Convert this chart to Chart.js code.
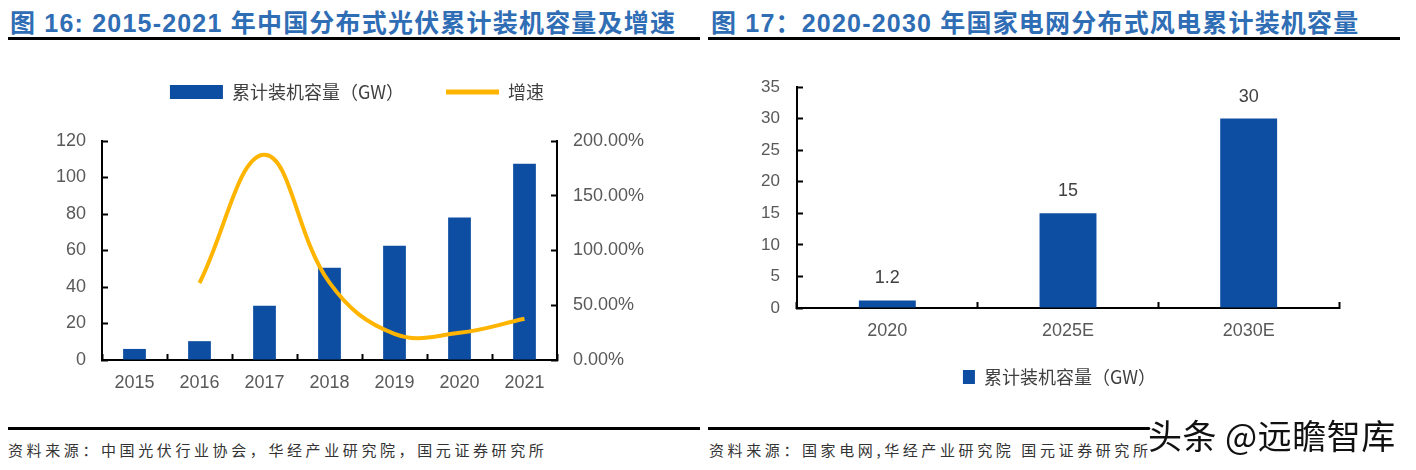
<!DOCTYPE html>
<html>
<head>
<meta charset="utf-8">
<script src="https://cdn.jsdelivr.net/npm/chart.js@4.4.0/dist/chart.umd.min.js"></script>
<style>
  body { margin: 0; width: 1416px; height: 470px; background: #fff; position: relative; overflow: hidden; }
  .title { position: absolute; top: 3px; font-family: "Liberation Sans", "Noto Sans CJK SC", sans-serif; font-weight: bold; font-size: 25px; color: #2f6db5; white-space: nowrap; letter-spacing: 1.2px; }
  .rule { position: absolute; height: 3px; background: #000; }
  .src { position: absolute; top: 439px; font-family: "Noto Sans CJK SC", sans-serif; font-size: 15px; color: #333; letter-spacing: 3.6px; white-space: nowrap; }
  .mark { position: absolute; left: 1148px; top: 410px; font-family: "Noto Sans CJK SC", sans-serif; font-size: 34px; color: #111; white-space: nowrap; letter-spacing: 0.5px;
          text-shadow: -2px 0 #fff, 2px 0 #fff, 0 -2px #fff, 0 2px #fff, -2px -2px #fff, 2px 2px #fff, -2px 2px #fff, 2px -2px #fff; }
  canvas { position: absolute; }
</style>
</head>
<body>
<div class="title" style="left:10px">图 16: 2015-2021 年中国分布式光伏累计装机容量及增速</div>
<div class="title" style="left:711px">图 17：2020-2030 年国家电网分布式风电累计装机容量</div>
<div class="rule" style="left:8px;width:692px;top:37px"></div>
<div class="rule" style="left:708px;width:692px;top:37px"></div>

<canvas id="pvChart" width="708" height="380" style="left:0;top:40px"></canvas>
<canvas id="windChart" width="708" height="380" style="left:708px;top:40px"></canvas>

<div class="rule" style="left:8px;width:692px;top:427px"></div>
<div class="rule" style="left:708px;width:452px;top:427px"></div>
<div class="src" style="left:8px">资料来源：中国光伏行业协会，华经产业研究院，国元证券研究所</div>
<div class="src" style="left:709px">资料来源：国家电网,华经产业研究院 国元证券研究所</div>
<div class="mark">头条 @远瞻智库</div>

<script>
// data
const pvYears = ['2015', '2016', '2017', '2018', '2019', '2020', '2021'];
const pvCapacity = [6.06, 10.32, 29.66, 50.61, 62.63, 78.15, 107.5];
const pvGrowth = [null, 70.3, 187.4, 70.6, 23.8, 24.8, 37.6];

const windYears = ['2020', '2025E', '2030E'];
const windCapacity = [1.2, 15, 30];

const BLUE = '#0d4ea2';
const ORANGE = '#ffb400';
const tickFont = { family: 'Liberation Sans', size: 18 };
const tickColor = '#595959';

Chart.defaults.devicePixelRatio = 1;

// inward tick marks + black axis line
function axisGrid() {
  return { drawOnChartArea: false, drawTicks: true, tickLength: -6, tickWidth: 2, tickColor: '#000' };
}
const axisBorder = { display: true, color: '#000', width: 2 };

// force legend box height so the plot area sits where the reference has it
function legendHeight(h) {
  return {
    id: 'legendHeight',
    beforeInit(chart) {
      const fit = chart.legend.fit;
      chart.legend.fit = function () { fit.call(this); this.height = h; };
    }
  };
}

// nudge the legend sideways after layout
function legendShift(dx) {
  return {
    id: 'legendShift',
    afterLayout(chart) {
      chart.legend.left += dx;
      chart.legend.right += dx;
    }
  };
}

new Chart(document.getElementById('pvChart'), {
  data: {
    labels: pvYears,
    datasets: [
      {
        type: 'line',
        label: '增速',
        data: pvGrowth,
        yAxisID: 'y1',
        borderColor: ORANGE,
        backgroundColor: ORANGE,
        borderWidth: 4,
        pointRadius: 0,
        tension: 0.4,
        order: 0
      },
      {
        type: 'bar',
        label: '累计装机容量（GW）',
        data: pvCapacity,
        yAxisID: 'y',
        backgroundColor: BLUE,
        barPercentage: 0.35,
        categoryPercentage: 1,
        order: 1
      }
    ]
  },
  options: {
    responsive: false,
    animation: false,
    layout: { padding: { top: 1, left: 0, right: 0, bottom: 0 } },
    plugins: {
      tooltip: { enabled: false },
      legend: {
        position: 'top',
        labels: {
          usePointStyle: true,
          pointStyleWidth: 53,
          boxHeight: 14,
          padding: 42,
          color: '#404040',
          font: { family: 'Noto Sans CJK SC', size: 18 },
          generateLabels(chart) {
            // bar first, then line, like the reference
            return [1, 0].map(i => {
              const ds = chart.data.datasets[i];
              const isLine = ds.type === 'line';
              return {
                text: ds.label,
                datasetIndex: i,
                fillStyle: isLine ? ds.borderColor : ds.backgroundColor,
                strokeStyle: isLine ? ds.borderColor : ds.backgroundColor,
                lineWidth: isLine ? 5 : 0,
                pointStyle: isLine ? 'line' : 'rect',
                fontColor: '#404040'
              };
            });
          }
        }
      }
    },
    scales: {
      x: {
        offset: true,
        grid: Object.assign(axisGrid(), { offset: true }),
        border: axisBorder,
        ticks: { color: tickColor, font: tickFont, padding: 18, maxRotation: 0 },
        afterFit(s) { s.height = 60; }
      },
      y: {
        position: 'left',
        min: 0,
        max: 120,
        grid: axisGrid(),
        border: axisBorder,
        ticks: { stepSize: 20, color: tickColor, font: tickFont, padding: 22 },
        afterFit(s) { s.width = 102; }
      },
      y1: {
        position: 'right',
        min: 0,
        max: 200,
        grid: axisGrid(),
        border: axisBorder,
        ticks: { stepSize: 50, color: tickColor, font: tickFont, padding: 22, callback: v => v.toFixed(2) + '%' },
        afterFit(s) { s.width = 151; }
      }
    }
  },
  plugins: [legendHeight(100), legendShift(3)]
});

// value labels above the bars of the right chart
const barValueLabels = {
  id: 'barValueLabels',
  afterDatasetsDraw(chart) {
    const ctx = chart.ctx;
    const values = chart.data.datasets[0].data;
    ctx.save();
    ctx.font = '18px "Liberation Sans"';
    ctx.fillStyle = '#404040';
    ctx.textAlign = 'center';
    ctx.textBaseline = 'middle';
    chart.getDatasetMeta(0).data.forEach((bar, i) => {
      ctx.fillText(String(values[i]), bar.x, bar.y - 22);
    });
    ctx.restore();
  }
};

new Chart(document.getElementById('windChart'), {
  type: 'bar',
  data: {
    labels: windYears,
    datasets: [{
      label: '累计装机容量（GW）',
      data: windCapacity,
      backgroundColor: BLUE,
      barPercentage: 0.315,
      categoryPercentage: 1
    }]
  },
  options: {
    responsive: false,
    animation: false,
    layout: { padding: { top: 47, left: 0, right: 77, bottom: 24 } },
    plugins: {
      tooltip: { enabled: false },
      legend: {
        position: 'bottom',
        labels: {
          boxWidth: 12,
          boxHeight: 14,
          padding: 10,
          color: '#404040',
          font: { family: 'Noto Sans CJK SC', size: 18 }
        }
      }
    },
    scales: {
      x: {
        grid: Object.assign(axisGrid(), { offset: true }),
        border: axisBorder,
        ticks: { color: tickColor, font: tickFont, padding: 18, maxRotation: 0 },
        afterFit(s) { s.height = 50; }
      },
      y: {
        min: 0,
        max: 35,
        grid: axisGrid(),
        border: axisBorder,
        ticks: { stepSize: 5, color: tickColor, font: { family: 'Liberation Sans', size: 17 }, padding: 23 },
        afterFit(s) { s.width = 89; }
      }
    }
  },
  plugins: [barValueLabels, legendShift(36)]
});
</script>
</body>
</html>
